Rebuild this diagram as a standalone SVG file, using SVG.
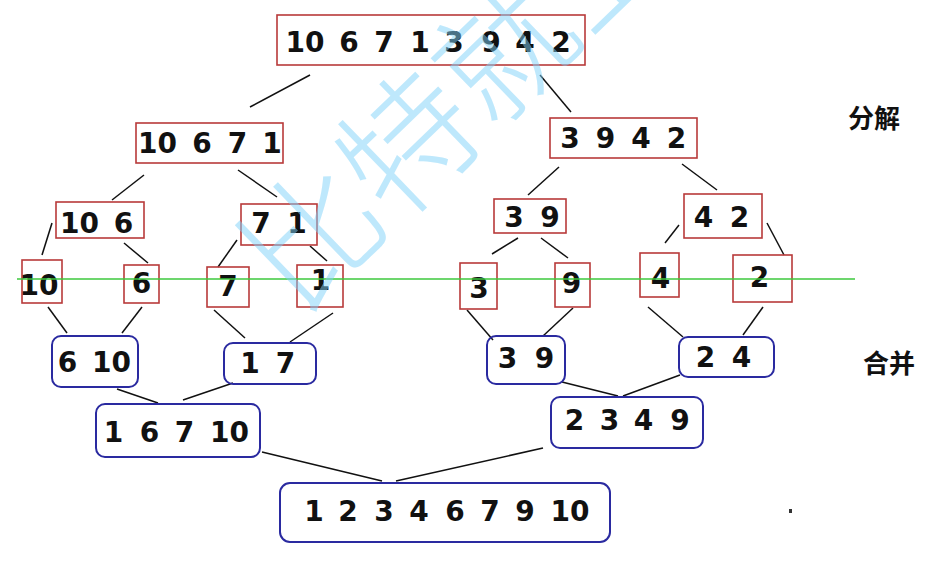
<svg xmlns="http://www.w3.org/2000/svg" width="951" height="570" viewBox="0 0 951 570">
<style>
.r{fill:none;stroke:#b83a3a;stroke-width:1.6}
.b{fill:none;stroke:#2a2aa0;stroke-width:2}
.t{font-family:"DejaVu Sans","Liberation Sans",sans-serif;font-weight:bold;font-size:28px;fill:#111;text-anchor:middle}
.c{font-family:"Noto Sans CJK SC",sans-serif;font-weight:bold;font-size:26px;fill:#111}
#edges line{stroke:#111;stroke-width:1.5}
</style>
<rect width="951" height="570" fill="#fff"/>
<g id="edges">
<line x1="250" y1="107" x2="310" y2="75"/>
<line x1="540" y1="75" x2="571" y2="112"/>
<line x1="144" y1="175" x2="112" y2="200"/>
<line x1="238" y1="170" x2="277" y2="197"/>
<line x1="52" y1="223" x2="42" y2="255"/>
<line x1="124" y1="243" x2="148" y2="263"/>
<line x1="237" y1="240" x2="218" y2="267"/>
<line x1="310" y1="246" x2="327" y2="261"/>
<line x1="559" y1="167" x2="528" y2="195"/>
<line x1="682" y1="164" x2="717" y2="190"/>
<line x1="518" y1="238" x2="492" y2="254"/>
<line x1="541" y1="238" x2="568" y2="258"/>
<line x1="679" y1="225" x2="665" y2="243"/>
<line x1="767" y1="223" x2="784" y2="255"/>
<line x1="48" y1="307" x2="67" y2="333"/>
<line x1="142" y1="307" x2="122" y2="333"/>
<line x1="214" y1="310" x2="245" y2="338"/>
<line x1="333" y1="313" x2="290" y2="342"/>
<line x1="467" y1="310" x2="493" y2="340"/>
<line x1="573" y1="308" x2="543" y2="336"/>
<line x1="648" y1="307" x2="683" y2="337"/>
<line x1="763" y1="307" x2="743" y2="335"/>
<line x1="117" y1="389" x2="158" y2="403"/>
<line x1="233" y1="383" x2="183" y2="400"/>
<line x1="562" y1="382" x2="618" y2="396"/>
<line x1="680" y1="375" x2="623" y2="396"/>
<line x1="262" y1="452" x2="382" y2="481"/>
<line x1="543" y1="448" x2="396" y2="481"/>
</g>
<g id="n0"><rect class="r" x="277" y="15" width="308" height="50"/><text class="t" y="52" font-size="30"><tspan x="305">10</tspan><tspan x="349">6</tspan><tspan x="384">7</tspan><tspan x="420">1</tspan><tspan x="454">3</tspan><tspan x="491">9</tspan><tspan x="525">4</tspan><tspan x="561">2</tspan></text></g>
<g id="n1"><rect class="r" x="136" y="123" width="147" height="40"/><text class="t" y="153"><tspan x="157.5">10</tspan><tspan x="202">6</tspan><tspan x="237.5">7</tspan><tspan x="272">1</tspan></text></g>
<g id="n2"><rect class="r" x="550" y="118" width="147" height="40"/><text class="t" y="148"><tspan x="570">3</tspan><tspan x="605.5">9</tspan><tspan x="641">4</tspan><tspan x="676.5">2</tspan></text></g>
<g id="n3"><rect class="r" x="56" y="202" width="88" height="36"/><text class="t" y="233"><tspan x="79.5">10</tspan><tspan x="123.5">6</tspan></text></g>
<g id="n4"><rect class="r" x="241" y="204" width="76" height="41"/><text class="t" y="233"><tspan x="261">7</tspan><tspan x="297">1</tspan></text></g>
<g id="n5"><rect class="r" x="494" y="199" width="72" height="34"/><text class="t" y="227"><tspan x="514">3</tspan><tspan x="550">9</tspan></text></g>
<g id="n6"><rect class="r" x="684" y="194" width="78" height="44"/><text class="t" y="227"><tspan x="703.5">4</tspan><tspan x="739.5">2</tspan></text></g>
<g id="n7"><rect class="r" x="22" y="260" width="40" height="43"/><text class="t" x="39" y="295">10</text></g>
<g id="n8"><rect class="r" x="124" y="265" width="35" height="38"/><text class="t" x="141.5" y="293">6</text></g>
<g id="n9"><rect class="r" x="207" y="267" width="42" height="40"/><text class="t" x="228" y="296">7</text></g>
<g id="n10"><rect class="r" x="297" y="265" width="46" height="42"/><text class="t" x="320.5" y="290">1</text></g>
<g id="n11"><rect class="r" x="460" y="263" width="37" height="46"/><text class="t" x="479" y="298">3</text></g>
<g id="n12"><rect class="r" x="555" y="263" width="35" height="44"/><text class="t" x="571.5" y="293">9</text></g>
<g id="n13"><rect class="r" x="640" y="253" width="39" height="44"/><text class="t" x="660.5" y="288">4</text></g>
<g id="n14"><rect class="r" x="733" y="255" width="59" height="47"/><text class="t" x="759.5" y="287">2</text></g>
<line x1="17" y1="279" x2="855" y2="279" stroke="#3cc83c" stroke-width="1.6"/>
<g id="m0"><rect class="b" x="52" y="336" width="86" height="51" rx="9"/><text class="t" y="372"><tspan x="67.5">6</tspan><tspan x="111.5">10</tspan></text></g>
<g id="m1"><rect class="b" x="224" y="343" width="92" height="41" rx="9"/><text class="t" y="373"><tspan x="250">1</tspan><tspan x="285.5">7</tspan></text></g>
<g id="m2"><rect class="b" x="487" y="336" width="78" height="48" rx="9"/><text class="t" y="368"><tspan x="507.5">3</tspan><tspan x="544.5">9</tspan></text></g>
<g id="m3"><rect class="b" x="679" y="337" width="95" height="40" rx="9"/><text class="t" y="367"><tspan x="705.5">2</tspan><tspan x="741.5">4</tspan></text></g>
<g id="m4"><rect class="b" x="96" y="404" width="164" height="53" rx="9"/><text class="t" y="442"><tspan x="113.5">1</tspan><tspan x="149.5">6</tspan><tspan x="184.5">7</tspan><tspan x="229.5">10</tspan></text></g>
<g id="m5"><rect class="b" x="551" y="397" width="152" height="51" rx="9"/><text class="t" y="430"><tspan x="574.5">2</tspan><tspan x="609.5">3</tspan><tspan x="643.5">4</tspan><tspan x="680">9</tspan></text></g>
<g id="m6"><rect class="b" x="280" y="483" width="330" height="59" rx="10"/><text class="t" y="521" font-size="30"><tspan x="314">1</tspan><tspan x="348">2</tspan><tspan x="384">3</tspan><tspan x="419">4</tspan><tspan x="455">6</tspan><tspan x="490">7</tspan><tspan x="525">9</tspan><tspan x="570">10</tspan></text></g>
<g id="labels">
<text class="c" x="848" y="128">分解</text>
<text class="c" x="863" y="373">合并</text>
<rect x="789" y="509" width="3" height="4" fill="#333"/>
</g>
<g id="watermark" opacity="0.5">
<text x="0" y="0" transform="translate(298,318) rotate(-44)" font-family="Noto Sans CJK SC, sans-serif" font-weight="300" font-size="134" fill="#7fd3fa">比特就业</text>
</g>
</svg>
